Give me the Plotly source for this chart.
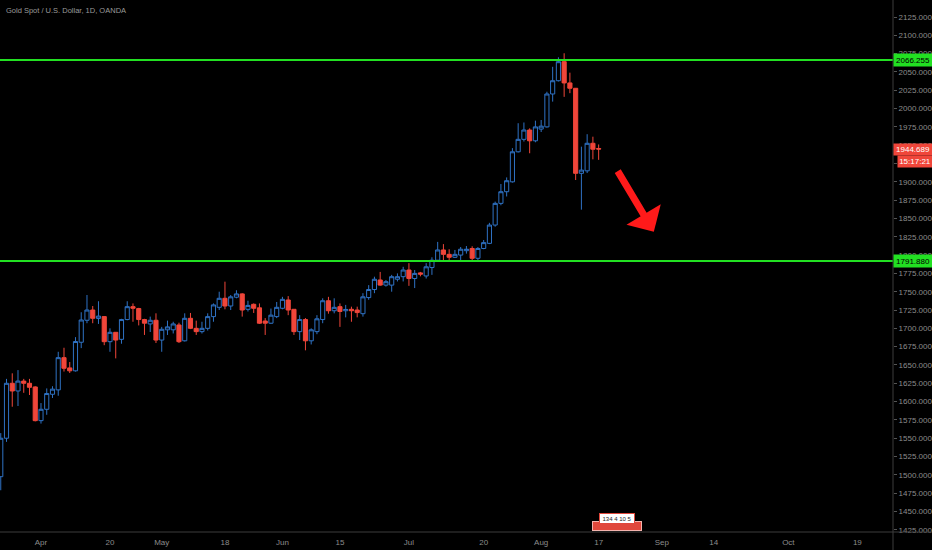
import pandas as pd
import plotly.graph_objects as go

# ---------------- data ----------------
holidays = ["2020-04-10"]
calendar = [d for d in pd.bdate_range("2020-03-23", "2020-10-30")
            if d.strftime("%Y-%m-%d") not in holidays]

opens = [1497.5, 1550, 1625, 1614.5, 1628, 1625, 1620,
         1574, 1589.5, 1610, 1616, 1660, 1646, 1642, 1681, 1711, 1725, 1713.5, 1716, 1681.8, 1694.6,
         1685, 1712, 1729.6, 1727, 1712, 1706, 1711, 1684, 1698, 1698, 1704.6, 1683, 1713.7, 1700,
         1695.5, 1700, 1716, 1728.7, 1741, 1730.5, 1742.5, 1747, 1726, 1732.8, 1728, 1710, 1707, 1716,
         1727.4, 1738.7, 1726, 1695.5, 1712, 1683, 1695.5, 1712, 1737.7, 1724, 1729.6, 1724, 1726, 1725,
         1720, 1742, 1753, 1766, 1759, 1759, 1767, 1770.5, 1779.6, 1768, 1775.7, 1771.5, 1783, 1793,
         1807, 1801, 1797, 1800, 1806, 1809, 1795.6, 1809, 1816, 1841, 1870.6, 1886.5, 1900, 1941,
         1958, 1970.7, 1956, 1972, 1975, 2019.9, 2038, 2064, 2035, 2027.7, 1911.6, 1915, 1952.6, 1945.5]
highs = [1557, 1631, 1638.6, 1643, 1631, 1631, 1621,
         1598, 1618, 1621, 1668, 1673.5, 1654, 1688, 1722, 1745.5, 1730.5, 1737, 1716.5, 1700, 1695,
         1713, 1737, 1734, 1728, 1713, 1716, 1720.5, 1702, 1710.5, 1709, 1707.7, 1720.5, 1721, 1710.5,
         1709, 1720.5, 1734, 1750, 1763.7, 1745.5, 1752, 1748, 1737.7, 1734, 1734, 1714, 1727, 1736,
         1743, 1744, 1726, 1718, 1714, 1700, 1718, 1741, 1743, 1741, 1734, 1732, 1729.6, 1729.6,
         1748, 1759, 1770.5, 1777, 1766, 1773, 1775, 1784, 1789, 1779.6, 1777, 1789, 1797, 1818,
         1815, 1808, 1807, 1811, 1812.4, 1812, 1811, 1820.6, 1844, 1873, 1897, 1906, 1946, 1980,
         1981, 1973, 1983.5, 1984.4, 2023, 2057, 2070, 2075.5, 2049, 2028, 1948, 1965, 1961.6, 1951]
lows = [1479, 1545, 1593, 1594, 1612, 1609, 1573,
        1570, 1582, 1605, 1608, 1641, 1639, 1641, 1673, 1707, 1707, 1706, 1677, 1668, 1659,
        1679, 1711, 1709, 1704, 1691, 1695, 1680, 1668, 1691, 1693, 1680, 1682, 1699, 1691,
        1693, 1697, 1709, 1725, 1726, 1725, 1741, 1716, 1723, 1721, 1706, 1691, 1706, 1714,
        1726, 1718, 1691, 1684, 1670, 1678, 1692, 1707, 1720, 1720.5, 1702, 1715, 1709, 1715,
        1716, 1739, 1748, 1758, 1757, 1750, 1764, 1764, 1758, 1755, 1771, 1768, 1773, 1791,
        1793, 1792, 1796, 1793, 1802, 1793, 1793, 1808, 1815, 1838.7, 1868, 1880, 1899, 1940,
        1955, 1939, 1954, 1968, 1974, 2009.5, 2037, 2016, 2021, 1902.5, 1862, 1912, 1930.7, 1930]
closes = [1550, 1625, 1614.5, 1628, 1625, 1619.5, 1574,
          1589.5, 1611, 1617, 1660, 1645.5, 1642, 1682, 1711.4, 1725, 1713.7, 1716.7, 1681.8, 1694.6, 1684,
          1712, 1729.6, 1727.4, 1712, 1707, 1711, 1684, 1698.7, 1702, 1706, 1681.8, 1713.7, 1700, 1695.5,
          1700, 1716, 1732, 1741, 1730.5, 1743, 1747, 1725, 1731.3, 1727.4, 1707, 1707, 1718, 1728.7,
          1739.6, 1725, 1695.5, 1712, 1683, 1698, 1713, 1737.7, 1724, 1728.7, 1723, 1725.8, 1724, 1721.5,
          1743, 1753, 1767, 1759, 1763.7, 1770.5, 1770.5, 1779.6, 1768, 1775, 1774, 1784, 1793, 1807,
          1801, 1797, 1801, 1808, 1808, 1795.6, 1809, 1817, 1841, 1870.6, 1886.5, 1901.5, 1941, 1958,
          1970.7, 1956, 1975, 1976, 2019.9, 2038, 2064, 2035, 2027.7, 1911.6, 1916, 1952.6, 1944.5, 1944.689]

levels = [2066.255, 1791.88]
last_price = "1944.689"
countdown = "15:17:21"

tick_dates = ["2020-04-01", "2020-04-20", "2020-05-01", "2020-05-18", "2020-06-01", "2020-06-15",
              "2020-07-01", "2020-07-20", "2020-08-03", "2020-08-17", "2020-09-01", "2020-09-14",
              "2020-10-01", "2020-10-19"]
tick_labels = ["Apr", "20", "May", "18", "Jun", "15", "Jul", "20", "Aug", "17", "Sep", "14", "Oct", "19"]

# ---------------- positions on the trading-day axis ----------------
pos = {d.strftime("%Y-%m-%d"): i for i, d in enumerate(calendar)}
xs = list(range(len(closes)))
tickvals = [pos[d] for d in tick_dates]

BLUE = "#2f72c4"
RED = "#f0463a"
GREEN = "#22e022"
GRAY = "#8c8c8c"
FONT = "Liberation Sans Narrow, Liberation Sans, Arial, sans-serif"

fig = go.Figure()
fig.add_trace(go.Candlestick(
    x=xs, open=opens, high=highs, low=lows, close=closes,
    increasing=dict(line=dict(color=BLUE, width=1), fillcolor="#000000"),
    decreasing=dict(line=dict(color=RED, width=1), fillcolor=RED),
    whiskerwidth=0, showlegend=False, hoverinfo="skip",
))

for lv in levels:
    fig.add_shape(type="line", xref="paper", x0=0, x1=1, yref="y", y0=lv, y1=lv,
                  line=dict(color=GREEN, width=2))
    fig.add_annotation(xref="paper", x=1, xanchor="left", yref="y", y=lv, yanchor="middle",
                       text=f"{lv:.3f}", showarrow=False, bgcolor=GREEN, width=36, height=10,
                       font=dict(size=8, color="#000000", family=FONT))

fig.add_annotation(xref="paper", x=1, xanchor="left", yref="paper", y=1 - 149.5 / 532, yanchor="middle",
                   text=last_price, showarrow=False, bgcolor=RED, width=36, height=9,
                   font=dict(size=8, color="#ffffff", family=FONT))
fig.add_annotation(xref="paper", x=1, xanchor="left", xshift=4, yref="paper", y=1 - 161.5 / 532,
                   yanchor="middle", text=countdown, showarrow=False, bgcolor=RED, width=32, height=9,
                   font=dict(size=8, color="#ffffff", family=FONT))

# axis frame lines
fig.add_shape(type="line", xref="paper", x0=1, x1=1, yref="paper", y0=-0.04, y1=1,
              line=dict(color="#3c3c3c", width=1))
fig.add_shape(type="line", xref="paper", x0=0, x1=1.05, yref="paper", y0=0, y1=0,
              line=dict(color="#3c3c3c", width=1))

# title
fig.add_annotation(xref="paper", x=0.005, xanchor="left", yref="paper", y=1 - 10 / 532, yanchor="middle",
                   text="Gold Spot / U.S. Dollar, 1D, OANDA", showarrow=False,
                   font=dict(size=7.5, color="#9a9a9a", family="Liberation Sans"))

# red arrow
fig.add_annotation(xref="x", yref="y", x=113.6, y=1832, ax=-37, ay=-62, text="",
                   showarrow=True, arrowhead=1, arrowsize=0.95, arrowwidth=7, arrowcolor="#ff1a1a")

# event badge near the time axis
fig.add_annotation(xref="paper", x=617 / 893, xanchor="center", yref="paper", y=1 - 525.5 / 532,
                   yanchor="middle", text=" ", showarrow=False, bgcolor="#e0483c", bordercolor="#f3b3ad",
                   borderwidth=1, width=46, height=6, font=dict(size=5))
fig.add_annotation(xref="paper", x=617 / 893, xanchor="center", yref="paper", y=1 - 518.5 / 532,
                   yanchor="middle", text="134 4 10 5", showarrow=False, bgcolor="#ffffff",
                   bordercolor="#e0483c", borderwidth=1, width=32, height=7,
                   font=dict(size=6, color="#222222", family="Liberation Sans"))

fig.update_layout(
    width=932, height=550,
    margin=dict(l=0, r=39, t=0, b=18, autoexpand=False),
    paper_bgcolor="#000000", plot_bgcolor="#000000",
    boxgap=0.28, boxgroupgap=0,
    xaxis=dict(range=[-0.13, 155.2], tickvals=tickvals, ticktext=tick_labels,
               showgrid=False, zeroline=False, showline=False, ticks="",
               ticklabelstandoff=4,
               tickfont=dict(size=8, color=GRAY, family="Liberation Sans")),
    yaxis=dict(side="right", range=[1422, 2148.2], tick0=1425, dtick=25, tickformat=".3f",
               showgrid=False, zeroline=False, showline=False, ticks="outside", ticklen=3,
               tickcolor="#555555", automargin=False,
               tickfont=dict(size=8, color=GRAY, family=FONT)),
    showlegend=False,
)
fig.update_xaxes(rangeslider_visible=False, automargin=False)

fig.write_html("out.html", config={"displayModeBar": False},
               post_script="document.body.style.margin='0';document.body.style.background='#000';")
